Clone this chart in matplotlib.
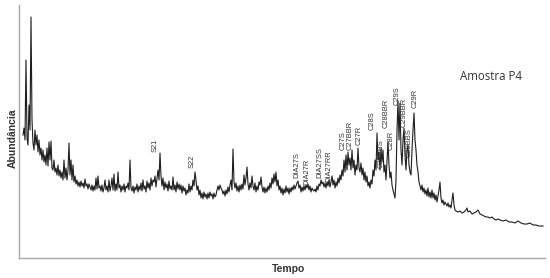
import matplotlib
matplotlib.use("Agg")
import matplotlib.pyplot as plt

tempo = [23, 24, 25, 26, 27, 28, 29, 30, 31, 32, 33, 34, 35, 36, 37, 38, 39, 40,
         41, 42, 43, 44, 45, 46, 47, 48, 49, 50, 51, 52, 53, 54, 55, 56, 57, 58, 59, 60,
         61, 62, 63, 64, 65, 66, 67, 68, 69, 70, 71, 72, 73, 74, 75, 76, 77, 78, 79, 80,
         81, 82, 83, 84, 85, 86, 87, 88, 89, 90, 91, 92, 93, 94, 95, 96, 97, 98, 99, 100,
         101, 102, 103, 104, 105, 106, 107, 108, 109, 110, 111, 112, 113, 114, 115, 116, 117, 118, 119, 120,
         121, 122, 123, 124, 125, 126, 127, 128, 129, 130, 131, 132, 133, 134, 135, 136, 137, 138, 139, 140,
         141, 142, 143, 144, 145, 146, 147, 148, 149, 150, 151, 152, 153, 154, 155, 156, 157, 158, 159, 160,
         161, 162, 163, 164, 165, 166, 167, 168, 169, 170, 171, 172, 173, 174, 175, 176, 177, 178, 179, 180,
         181, 182, 183, 184, 185, 186, 187, 188, 189, 190, 191, 192, 193, 194, 195, 196, 197, 198, 199, 200,
         201, 202, 203, 204, 205, 206, 207, 208, 209, 210, 211, 212, 213, 214, 215, 216, 217, 218, 219, 220,
         221, 222, 223, 224, 225, 226, 227, 228, 229, 230, 231, 232, 233, 234, 235, 236, 237, 238, 239, 240,
         241, 242, 243, 244, 245, 246, 247, 248, 249, 250, 251, 252, 253, 254, 255, 256, 257, 258, 259, 260,
         261, 262, 263, 264, 265, 266, 267, 268, 269, 270, 271, 272, 273, 274, 275, 276, 277, 278, 279, 280,
         281, 282, 283, 284, 285, 286, 287, 288, 289, 290, 291, 292, 293, 294, 295, 296, 297, 298, 299, 300,
         301, 302, 303, 304, 305, 306, 307, 308, 309, 310, 311, 312, 313, 314, 315, 316, 317, 318, 319, 320,
         321, 322, 323, 324, 325, 326, 327, 328, 329, 330, 331, 332, 333, 334, 335, 336, 337, 338, 339, 340,
         341, 342, 343, 344, 345, 346, 347, 348, 349, 350, 351, 352, 353, 354, 355, 356, 357, 358, 359, 360,
         361, 362, 363, 364, 365, 366, 367, 368, 369, 370, 371, 372, 373, 374, 375, 376, 377, 378, 379, 380,
         381, 382, 383, 384, 385, 386, 387, 388, 389, 390, 391, 392, 393, 394, 395, 396, 397, 398, 399, 400,
         401, 402, 403, 404, 405, 406, 407, 408, 409, 410, 411, 412, 413, 414, 415, 416, 417, 418, 419, 420,
         421, 422, 423, 424, 425, 426, 427, 428, 429, 430, 431, 432, 433, 434, 435, 436, 437, 438, 439, 440,
         441, 442, 443, 444, 445, 446, 447, 448, 449, 450, 451, 452, 453, 454, 455, 456, 458, 460,
         462, 464, 466, 467, 468, 470, 472, 474, 476, 478, 480, 482, 484, 486, 488, 490, 492, 494,
         496, 498, 500, 503, 506, 509, 512, 515, 518, 521, 524, 527, 530, 533, 536, 539, 543]

abundancia = [123, 130, 118, 198, 120, 113, 153, 128, 241, 138, 115, 108, 128, 113, 123, 106, 118, 103,
              110, 98, 108, 96, 103, 93, 110, 92, 116, 98, 117, 90, 88, 98, 86, 90, 83, 93, 82, 88,
              80, 86, 78, 98, 80, 90, 78, 88, 115, 83, 98, 78, 93, 76, 82, 74, 78, 72, 76, 71,
              77, 72, 75, 70, 79, 72, 74, 69, 74, 71, 68, 73, 67, 72, 68, 80, 69, 82, 70, 72,
              67, 73, 66, 70, 78, 68, 72, 66, 78, 67, 72, 80, 68, 84, 67, 74, 68, 86, 70, 73,
              66, 72, 68, 74, 66, 72, 70, 75, 68, 98, 70, 67, 72, 65, 71, 68, 74, 66, 72, 68,
              75, 67, 78, 69, 72, 66, 77, 70, 75, 68, 80, 72, 78, 76, 82, 71, 80, 88, 78, 105,
              82, 72, 80, 68, 76, 70, 74, 67, 77, 69, 72, 68, 81, 68, 73, 66, 76, 69, 74, 68,
              73, 65, 72, 67, 70, 63, 68, 65, 74, 66, 72, 68, 78, 72, 86, 78, 68, 72, 63, 68,
              60, 65, 59, 66, 61, 64, 59, 65, 60, 66, 62, 64, 59, 65, 61, 63, 68, 72, 68, 73,
              70, 68, 64, 67, 62, 68, 64, 71, 66, 73, 78, 68, 109, 76, 70, 75, 67, 72, 66, 73,
              68, 74, 69, 83, 73, 80, 91, 74, 68, 75, 70, 82, 72, 68, 75, 66, 72, 68, 76, 73,
              81, 71, 66, 71, 65, 70, 66, 72, 68, 75, 70, 80, 74, 84, 76, 86, 72, 78, 68, 72,
              65, 70, 63, 69, 65, 72, 66, 70, 64, 70, 66, 71, 68, 73, 69, 72, 75, 77, 70, 73,
              66, 71, 67, 72, 68, 73, 70, 74, 68, 72, 66, 70, 68, 67, 69, 66, 72, 68, 74, 72,
              78, 74, 76, 71, 75, 70, 76, 72, 78, 71, 76, 82, 73, 78, 70, 76, 72, 80, 75, 83,
              78, 88, 82, 98, 86, 103, 88, 106, 93, 100, 88, 108, 90, 98, 83, 93, 88, 110, 90, 86,
              95, 83, 90, 78, 86, 76, 82, 72, 76, 70, 78, 74, 88, 82, 98, 88, 125, 98, 106, 88,
              110, 96, 108, 86, 93, 78, 98, 116, 93, 80, 86, 73, 68, 64, 60, 78, 128, 157, 118, 155,
              108, 93, 118, 130, 103, 88, 108, 113, 93, 86, 83, 108, 128, 145, 118, 108, 93, 86, 76, 72,
              68, 73, 66, 70, 64, 68, 62, 70, 61, 66, 60, 68, 60, 65, 58, 63, 56, 62, 68, 76,
              60, 55, 58, 53, 56, 54, 52, 55, 51, 53, 50, 58, 65, 53, 48, 47, 46, 47,
              45, 46, 48, 50, 46, 47, 44, 45, 46, 48, 44, 43, 42, 41, 41, 40, 41, 39,
              38, 39, 38, 37, 38, 36, 36, 35, 37, 35, 34, 34, 35, 33, 33, 32, 32]

picos = ["S21", "S22", "DIA27S", "DIA27R", "DIA27SS", "DIA27RR", "C27S", "C27BBR", "C27R",
         "C28S", "C28BBS", "C28BBR", "C28R", "C29S", "C29BBR", "C29BBS", "C29R"]
picos_tempo = [155, 192, 297, 307, 320, 329, 343, 350, 359, 372, 381, 386, 391, 397, 404, 409, 415]
picos_altura = [106, 90, 80, 73, 80, 76, 108, 108, 113, 128, 90, 130, 108, 153, 131, 101, 150]

fig = plt.figure(figsize=(5.5, 2.78), dpi=100)
W, H = 550, 278
ax = fig.add_axes([19 / W, 20 / H, (545 - 19) / W, (258 - 5) / H])
ax.plot(tempo, abundancia, color="#1e1e1e", lw=0.8)
ax.set_xlim(19, 545)
ax.set_ylim(0, 253)
for s in ["top", "right"]:
    ax.spines[s].set_visible(False)
for s in ["left", "bottom"]:
    ax.spines[s].set_color("#a8a8a8")
    ax.spines[s].set_linewidth(1.0)
ax.set_xticks([])
ax.set_yticks([])

for nome, t, h in zip(picos, picos_tempo, picos_altura):
    ax.text(t, h, nome, rotation=90, ha="center", va="bottom", fontsize=5.4,
            family="Liberation Sans", color="#333333")

ax.text(491, 182, "Amostra P4", ha="center", va="center", fontsize=8.3,
        family="Open Sans", color="#333333")

fig.text(13 / W, 1 - 138 / H, "Abundância", rotation=90, ha="center", va="center",
         fontsize=7.5, fontweight="bold", family="Liberation Sans", color="#333333")
fig.text(288 / W, 1 - 269 / H, "Tempo", ha="center", va="center",
         fontsize=7.5, fontweight="bold", family="Liberation Sans", color="#333333")

fig.savefig("out.png", dpi=100)
